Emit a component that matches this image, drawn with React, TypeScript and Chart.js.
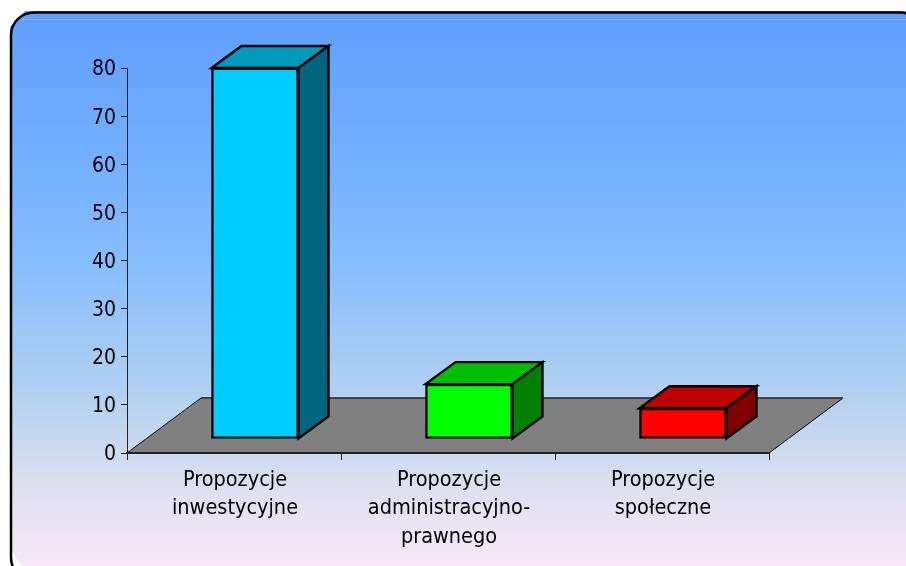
import React, { useEffect, useRef } from "react";
import { Chart, registerables } from "chart.js";

Chart.register(...registerables);

const categories = [
  ["Propozycje", "inwestycyjne"],
  ["Propozycje", "administracyjno-", "prawnego"],
  ["Propozycje", "społeczne"],
];
const values = [77.1, 11.4, 6.4];
const frontColors = ["#00ccff", "#00ff00", "#ff0000"];
const topColors = ["#0099bb", "#00bf00", "#bf0000"];
const sideColors = ["#006680", "#008000", "#800000"];
const yTicks = [0, 10, 20, 30, 40, 50, 60, 70, 80];

const FONT = '"DejaVu Sans Condensed", "DejaVu Sans", sans-serif';

const barOffset = { x: 21, y: -14 };
const barDepth = { x: 30, y: -22 };
const floorDepth = { x: 74, y: -55 };

function shiftLabels(scale: any, dx: number, dy: number) {
  if (scale.__shifted) return;
  scale.__shifted = true;
  const original = scale.drawLabels;
  scale.drawLabels = function (area: any) {
    const c = this.ctx;
    c.save();
    c.translate(dx, dy);
    original.call(this, area);
    c.restore();
  };
}

const depthPlugin = {
  id: "depth3d",
  beforeDraw(chart: any) {
    const { ctx, width, height } = chart;
    ctx.save();
    const g = ctx.createLinearGradient(0, 12, 0, height);
    g.addColorStop(0, "#5f9eff");
    g.addColorStop(0.3, "#77b2ff");
    g.addColorStop(0.45, "#86bdfd");
    g.addColorStop(0.7, "#b4d2f0");
    g.addColorStop(0.85, "#dcdff0");
    g.addColorStop(1, "#f8e8f8");
    ctx.fillStyle = "#ffffff";
    ctx.fillRect(0, 0, width, height);
    ctx.fillStyle = g;
    ctx.beginPath();
    ctx.moveTo(25, 11);
    ctx.lineTo(width, 11);
    ctx.lineTo(width, height);
    ctx.lineTo(22, height);
    ctx.lineTo(11, 550);
    ctx.lineTo(10, 27);
    ctx.closePath();
    ctx.fill();
    ctx.strokeStyle = "#000000";
    ctx.lineWidth = 2.5;
    ctx.beginPath();
    ctx.roundRect(11, 12.5, 912, 568, 23);
    ctx.stroke();
    ctx.strokeStyle = "rgba(255,255,255,0.25)";
    ctx.lineWidth = 1;
    ctx.beginPath();
    ctx.moveTo(22, 19.5);
    ctx.lineTo(906, 19.5);
    ctx.stroke();
    ctx.restore();
  },
  beforeDatasetsDraw(chart: any) {
    const { ctx, chartArea } = chart;
    const { left, right, bottom } = chartArea;
    ctx.save();
    ctx.fillStyle = "#808080";
    ctx.strokeStyle = "#000000";
    ctx.lineWidth = 1;
    ctx.beginPath();
    ctx.moveTo(left, bottom);
    ctx.lineTo(left + floorDepth.x, bottom + floorDepth.y);
    ctx.lineTo(right + floorDepth.x, bottom + floorDepth.y);
    ctx.lineTo(right, bottom);
    ctx.closePath();
    ctx.fill();
    ctx.stroke();
    ctx.strokeStyle = "#444444";
    ctx.lineWidth = 2;
    ctx.beginPath();
    ctx.moveTo(left + floorDepth.x, bottom + floorDepth.y);
    ctx.lineTo(right + floorDepth.x - 1, bottom + floorDepth.y);
    ctx.stroke();
    ctx.strokeStyle = "#222222";
    ctx.beginPath();
    ctx.moveTo(left, bottom);
    ctx.lineTo(right, bottom);
    ctx.stroke();
    ctx.restore();
    ctx.save();
    ctx.translate(barOffset.x, barOffset.y);
    const meta = chart.getDatasetMeta(0);
    ctx.lineWidth = 2.4;
    ctx.strokeStyle = "#000000";
    ctx.lineJoin = "miter";
    meta.data.forEach((bar: any, i: number) => {
      const l = bar.x - bar.width / 2;
      const r = bar.x + bar.width / 2;
      const t = bar.y;
      const b = bar.base;
      ctx.fillStyle = topColors[i];
      ctx.beginPath();
      ctx.moveTo(l, t);
      ctx.lineTo(l + barDepth.x, t + barDepth.y);
      ctx.lineTo(r + barDepth.x, t + barDepth.y);
      ctx.lineTo(r, t);
      ctx.closePath();
      ctx.fill();
      ctx.stroke();
      ctx.fillStyle = sideColors[i];
      ctx.beginPath();
      ctx.moveTo(r, t);
      ctx.lineTo(r + barDepth.x, t + barDepth.y);
      ctx.lineTo(r + barDepth.x, b + barDepth.y);
      ctx.lineTo(r, b);
      ctx.closePath();
      ctx.fill();
      ctx.stroke();
    });
  },
  afterDatasetsDraw(chart: any) {
    chart.ctx.restore();
  },
};

export default function App() {
  const ref = useRef<HTMLCanvasElement>(null);
  useEffect(() => {
    const chart = new Chart(ref.current as HTMLCanvasElement, {
      type: "bar",
      data: {
        labels: categories as any,
        datasets: [
          {
            data: values,
            backgroundColor: frontColors,
            borderColor: "#000000",
            borderWidth: 2.4,
            borderSkipped: false,
            barThickness: 87,
            clip: false as any,
          },
        ],
      },
      options: {
        responsive: false,
        animation: false,
        layout: { padding: { top: 68, right: 137, left: 0, bottom: 0 } },
        plugins: { legend: { display: false }, tooltip: { enabled: false }, title: { display: false } },
        scales: {
          x: {
            offset: true,
            grid: { display: true, drawOnChartArea: false, drawTicks: true, tickLength: 7, color: "#222222", offset: true },
            border: { color: "#222222", width: 2 },
            ticks: {
              autoSkip: false,
              maxRotation: 0,
              minRotation: 0,
              color: "#000000",
              padding: 6,
              font: { family: FONT, size: 21.5, lineHeight: 1.33 },
            },
            afterFit(scale: any) {
              scale.height = 566 - 453;
              shiftLabels(scale, 1, 0);
            },
          },
          y: {
            min: 0,
            max: 80,
            afterBuildTicks(scale: any) {
              scale.ticks = yTicks.map((value) => ({ value }));
            },
            grid: { display: true, drawOnChartArea: false, drawTicks: true, tickLength: 6, color: "#222222" },
            border: { color: "#222222", width: 1 },
            ticks: {
              color: "#000000",
              padding: 2,
              font: { family: FONT, size: 21 },
            },
            afterFit(scale: any) {
              scale.width = 127;
              shiftLabels(scale, -3, 2);
            },
          },
        },
      },
      plugins: [depthPlugin],
    } as any);
    return () => chart.destroy();
  }, []);
  return (
    <div style={{ position: "absolute", left: 0, top: 0, width: 906, height: 566 }}>
      <canvas ref={ref} width={906} height={566} style={{ display: "block" }} />
    </div>
  );
}
